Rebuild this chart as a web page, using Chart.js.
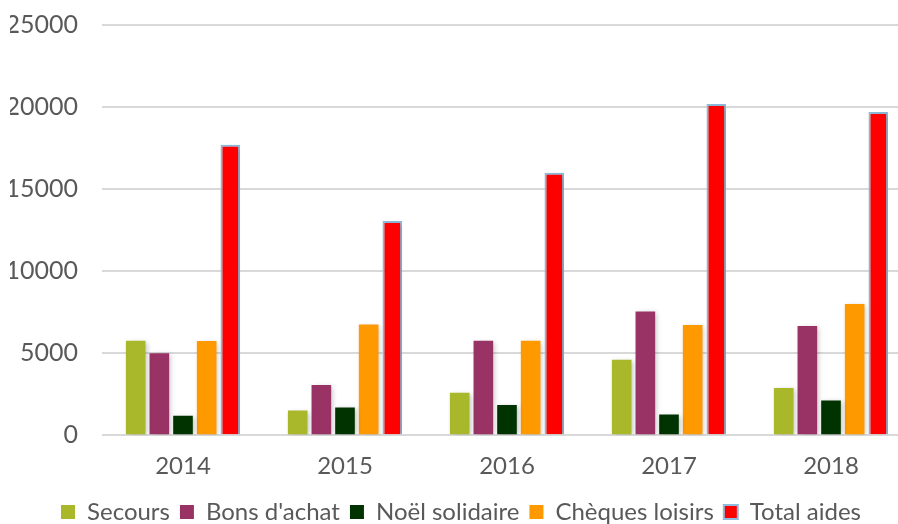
<!DOCTYPE html>
<html>
<head>
<meta charset="utf-8">
<script src="https://cdn.jsdelivr.net/npm/chart.js@4/dist/chart.umd.min.js"></script>
<style>
  html, body { margin: 0; padding: 0; background: #fff; overflow: hidden; }
  #wrap { width: 912px; height: 524px; }
</style>
</head>
<body>
<div id="wrap"><canvas id="aidesChart" width="912" height="524"></canvas></div>
<script>
// Aides par année
const years = ["2014", "2015", "2016", "2017", "2018"];
const secours = [5750, 1500, 2580, 4600, 2880];
const bonsAchat = [5000, 3060, 5750, 7540, 6650];
const noelSolidaire = [1180, 1690, 1840, 1260, 2120];
const chequesLoisirs = [5740, 6740, 5750, 6720, 8000];
const totalAides = [17700, 13050, 15990, 20180, 19700];
const yTicks = [0, 5000, 10000, 15000, 20000, 25000];

const textColor = "#595959";

// ombre légère sous les barres
const barShadow = {
  id: "barShadow",
  beforeDatasetsDraw(chart) {
    const c = chart.ctx;
    c.save();
    c.shadowColor = "rgba(0, 0, 0, 0.22)";
    c.shadowBlur = 5;
    c.shadowOffsetX = 2;
    c.shadowOffsetY = 1;
  },
  afterDatasetsDraw(chart) {
    chart.ctx.restore();
  },
};

const ctx = document.getElementById("aidesChart").getContext("2d");

const aidesChart = new Chart(ctx, {
  type: "bar",
  data: {
    labels: years,
    datasets: [
      { label: "Secours", data: secours, backgroundColor: "#a9b82b" },
      { label: "Bons d'achat", data: bonsAchat, backgroundColor: "#993366" },
      { label: "Noël solidaire", data: noelSolidaire, backgroundColor: "#003300" },
      { label: "Chèques loisirs", data: chequesLoisirs, backgroundColor: "#ff9900" },
      {
        label: "Total aides",
        data: totalAides,
        backgroundColor: "#ff0000",
        borderColor: "#8fbcdc",
        borderWidth: 2,
      },
    ],
  },
  plugins: [barShadow],
  options: {
    responsive: false,
    animation: false,
    layout: {
      padding: { left: 10, right: 0, top: 25, bottom: -10 },
    },
    datasets: {
      bar: {
        categoryPercentage: 0.73,
        barPercentage: 0.83,
      },
    },
    plugins: {
      legend: {
        display: true,
        position: "bottom",
        labels: {
          color: textColor,
          font: { family: "Lato", size: 24 },
          boxWidth: 14,
          boxHeight: 14,
          padding: 10,
        },
      },
      tooltip: { enabled: false },
    },
    scales: {
      x: {
        grid: { display: false },
        border: { display: false },
        ticks: {
          color: textColor,
          font: { family: "Lato", size: 24 },
          padding: 9,
        },
      },
      y: {
        min: 0,
        max: 25000,
        afterBuildTicks(axis) {
          axis.ticks = yTicks.map((v) => ({ value: v }));
        },
        afterFit(axis) {
          axis.width = 92;
          axis.paddingTop = 0;
          axis.paddingBottom = 0;
        },
        grid: {
          color: "#d9d9d9",
          lineWidth: 2,
          drawTicks: false,
        },
        border: { display: false },
        ticks: {
          color: textColor,
          font: { family: "Lato", size: 25 },
          padding: 24,
          callback: (v) => String(v),
        },
      },
    },
  },
});
</script>
</body>
</html>
